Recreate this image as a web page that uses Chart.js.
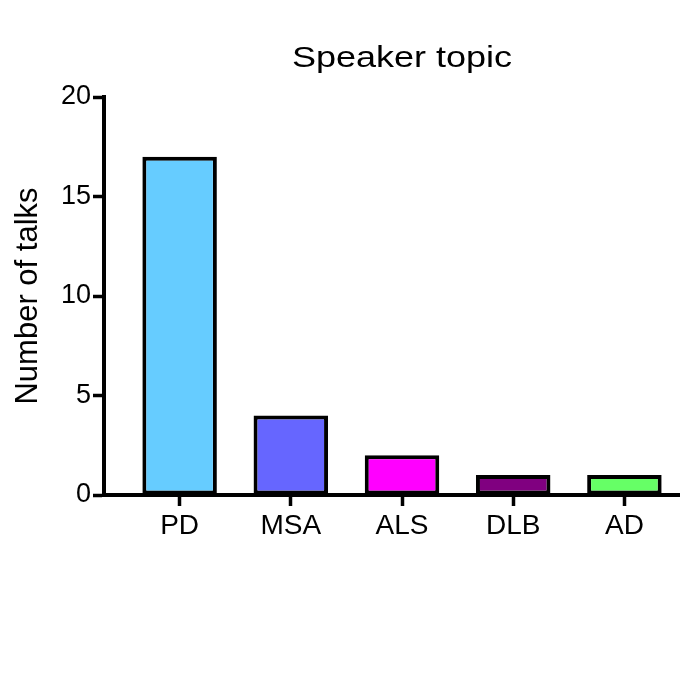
<!DOCTYPE html>
<html>
<head>
<meta charset="utf-8">
<script src="https://cdn.jsdelivr.net/npm/chart.js@4/dist/chart.umd.min.js"></script>
<style>
  body { margin: 0; background: #fff; }
  #wrap { width: 680px; height: 680px; position: relative; }
</style>
</head>
<body>
<div id="wrap"><canvas id="myChart"></canvas></div>
<script>
// data
const topics = ['PD', 'MSA', 'ALS', 'DLB', 'AD']
const talks = [17, 4, 2, 1, 1]
const barColors = ['#66ccff', '#6666ff', '#ff00ff', '#800080', '#66ff66']
const yTicks = [0, 5, 10, 15, 20]

const FONT = '"Liberation Sans", Arial, Helvetica, sans-serif'

// title centred over the bars, not over the whole canvas
// (the source text looks a bit wide, so stretch it slightly)
const titlePlugin = {
  id: 'topTitle',
  afterDraw(chart) {
    const x = chart.scales.x
    const ctx = chart.ctx
    const cx = (x.getPixelForValue(0) + x.getPixelForValue(topics.length - 1)) / 2
    ctx.save()
    ctx.font = '30px ' + FONT
    ctx.fillStyle = '#000'
    ctx.textAlign = 'center'
    ctx.textBaseline = 'alphabetic'
    ctx.translate(cx, 67)
    ctx.scale(1.2, 1)
    ctx.fillText('Speaker topic', 0, 0)
    ctx.restore()
  }
}

const ctx = document.getElementById('myChart').getContext('2d')
const myChart = new Chart(ctx, {
  type: 'bar',
  data: {
    datasets: [{
      label: 'Number of talks',
      data: talks.map((v, i) => ({ x: i, y: v })),
      backgroundColor: barColors,
      borderColor: '#000',
      borderWidth: 4,
      borderSkipped: false,
      categoryPercentage: 1,
      barPercentage: 0.67
    }]
  },
  options: {
    responsive: true,
    maintainAspectRatio: false,
    animation: false,
    layout: { padding: { top: 97, right: 0, bottom: 0, left: 0 } },
    plugins: {
      legend: { display: false },
      tooltip: { enabled: false }
    },
    scales: {
      x: {
        type: 'linear',
        min: -0.68,
        max: 4.5,
        offset: false,
        afterFit(scale) { scale.height = 185 },
        afterBuildTicks(scale) {
          scale.ticks = topics.map((t, i) => ({ value: i }))
        },
        border: { display: true, color: '#000', width: 4 },
        grid: {
          offset: false,
          drawOnChartArea: false,
          drawTicks: true,
          tickLength: 11,
          tickWidth: 3.5,
          tickColor: '#000'
        },
        ticks: {
          color: '#000',
          padding: 3,
          maxRotation: 0,
          font: { family: FONT, size: 28 },
          callback: (v) => topics[v] ?? ''
        }
      },
      y: {
        min: 0,
        max: 20,
        afterFit(scale) { scale.width = 104 },
        afterBuildTicks(scale) {
          scale.ticks = yTicks.map(v => ({ value: v }))
        },
        border: { display: true, color: '#000', width: 4 },
        grid: {
          drawOnChartArea: false,
          drawTicks: true,
          tickLength: 11,
          tickWidth: 3.5,
          tickColor: '#000'
        },
        ticks: {
          color: '#000',
          padding: 2,
          font: { family: FONT, size: 27 }
        },
        title: {
          display: true,
          text: 'Number of talks',
          color: '#000',
          padding: { top: 10, bottom: 0 },
          font: { family: FONT, size: 31 }
        }
      }
    }
  },
  plugins: [titlePlugin]
})
</script>
</body>
</html>
